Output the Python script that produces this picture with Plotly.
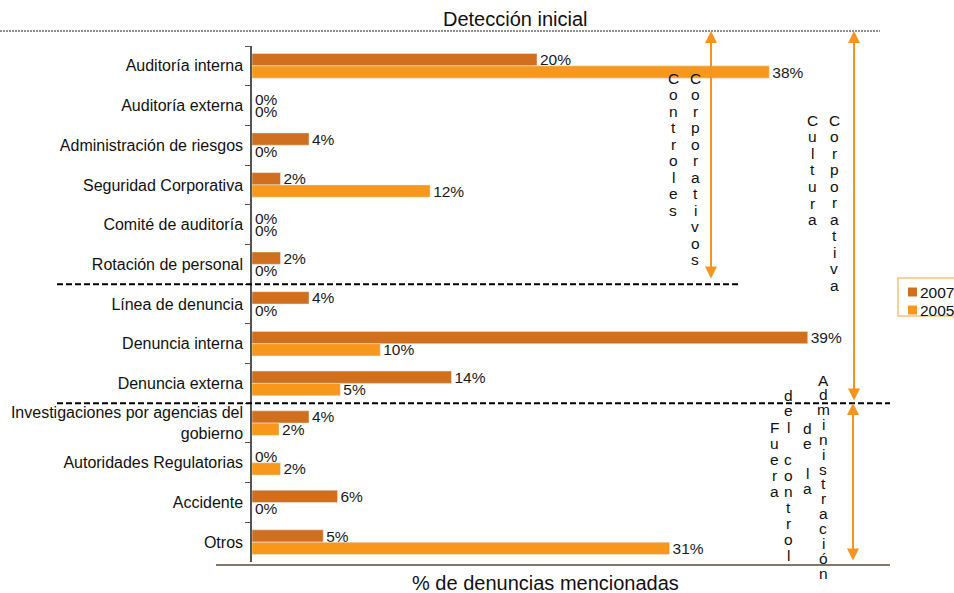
import plotly.graph_objects as go

# categorias (de arriba hacia abajo)
categorias = [
    "Auditoría interna", "Auditoría externa", "Administración de riesgos",
    "Seguridad Corporativa", "Comité de auditoría", "Rotación de personal",
    "Línea de denuncia", "Denuncia interna", "Denuncia externa",
    "Investigaciones por agencias del<br>gobierno", "Autoridades Regulatorias",
    "Accidente", "Otros",
]
v2007 = [20, 0, 4, 2, 0, 2, 4, 39, 14, 4, 0, 6, 5]
# largo de barra 2005 (las etiquetas originales no coinciden exacto)
v2005 = [36.3, 0, 0, 12.5, 0, 0, 0, 9.0, 6.2, 1.9, 2.0, 0, 29.3]
etiq2007 = [20, 0, 4, 2, 0, 2, 4, 39, 14, 4, 0, 6, 5]
etiq2005 = [38, 0, 0, 12, 0, 0, 0, 10, 5, 2, 2, 0, 31]
series = ["2007", "2005"]

C2007 = "#D0701E"
C2005 = "#F7981D"
FONT = "Liberation Sans, Arial, sans-serif"

# area de trazado en pixeles
SW, SH = 954, 593
L, R, T, B = 252, 880, 46, 562


def px_x(x):
    return (x - L) / (R - L)


def px_y(y):
    return (B - y) / (B - T)


fig = go.Figure()
for nombre, vals, etiq, col in [("2007", v2007, etiq2007, C2007),
                                ("2005", v2005, etiq2005, C2005)]:
    fig.add_trace(go.Bar(
        name=nombre, y=categorias, x=vals, orientation="h",
        marker_color=col, text=[f"{v}%" for v in etiq],
        textposition="outside", constraintext="none", cliponaxis=False,
        textfont=dict(size=15.5, color="#1a1a1a"), showlegend=False,
    ))

shapes = [
    # linea punteada superior
    dict(type="line", xref="paper", yref="paper", x0=px_x(0), x1=px_x(880),
         y0=px_y(31), y1=px_y(31), line=dict(color="#222", width=1, dash="2px,1px")),
    # eje inferior
    dict(type="line", xref="paper", yref="paper", x0=px_x(216), x1=px_x(890),
         y0=px_y(565), y1=px_y(565), line=dict(color="#5a4a3a", width=1.5)),
    # separadores de grupo
    dict(type="line", xref="paper", yref="y", x0=px_x(57), x1=px_x(740),
         y0=5.5, y1=5.5, line=dict(color="black", width=2, dash="6px,3px")),
    dict(type="line", xref="paper", yref="y", x0=px_x(57), x1=px_x(890),
         y0=8.5, y1=8.5, line=dict(color="black", width=2, dash="6px,3px")),
    # marco de leyenda
    dict(type="rect", xref="paper", yref="paper", x0=px_x(898), x1=px_x(970),
         y0=px_y(278), y1=px_y(316), line=dict(color="#F7C27F", width=1.5)),
]

annotations = [
    dict(text="Detección inicial", xref="paper", yref="paper", x=px_x(515), y=px_y(19),
         xanchor="center", yanchor="middle", showarrow=False,
         font=dict(size=20, color="#111")),
    dict(text="% de denuncias mencionadas", xref="paper", yref="paper",
         x=px_x(545), y=px_y(583), xanchor="center", yanchor="middle",
         showarrow=False, font=dict(size=20, color="#111")),
]

# leyenda dibujada a mano
for i, (nombre, col) in enumerate(zip(series, [C2007, C2005])):
    yc = 292 + i * 18
    shapes.append(dict(type="rect", xref="paper", yref="paper",
                       x0=px_x(908), x1=px_x(917), y0=px_y(yc - 4.5), y1=px_y(yc + 4.5),
                       fillcolor=col, line=dict(width=0)))
    annotations.append(dict(text=nombre, xref="paper", yref="paper", x=px_x(918),
                            y=px_y(yc), xanchor="left", yanchor="middle",
                            showarrow=False, font=dict(size=15.5, color="#111")))

# flechas de doble punta
for x, y0, y1 in [(711, 31, 280), (854, 31, 402), (853, 403, 562)]:
    annotations.append(dict(
        xref="paper", yref="paper", x=px_x(x), y=px_y(y0), ax=0, ay=y1 - y0,
        text="", showarrow=True, arrowhead=2, arrowside="end+start",
        arrowsize=1.2, arrowwidth=2, arrowcolor="#F7941D", standoff=0, startstandoff=0,
    ))

# textos verticales (letra por letra)
columnas = [
    ("Controles", 673, 78, 16.5),
    ("Corporativos", 695, 78, 16.5),
    ("Cultura", 812, 120, 16.6),
    ("Corporativa", 834, 120, 16.5),
    ("Fuera", 774, 427, 16.2),
    ("del control", 788, 395, 16.0),
    ("de la", 807, 428, 15.0),
    ("Administración", 823, 380, 14.85),
]
for palabra, x, y, paso in columnas:
    for i, ch in enumerate(palabra):
        if ch == " ":
            continue
        annotations.append(dict(
            text=ch, xref="paper", yref="paper", x=px_x(x), y=px_y(y + i * paso),
            showarrow=False, font=dict(size=15.5, color="#111"),
            xanchor="center", yanchor="middle",
        ))

fig.update_layout(
    width=SW, height=SH,
    margin=dict(l=L, r=SW - R, t=T, b=SH - B, autoexpand=False),
    paper_bgcolor="white", plot_bgcolor="white",
    font=dict(family=FONT, size=15.5, color="#111"),
    barmode="group", bargap=0.38, bargroupgap=0,
    showlegend=False,
    shapes=shapes,
    annotations=annotations,
)
fig.update_xaxes(range=[0, (R - L) / 14.25], showgrid=False, zeroline=False,
                 showticklabels=False, showline=False, ticks="")
fig.update_yaxes(autorange="reversed", showgrid=False, showline=True,
                 linecolor="#555", linewidth=1.5, ticks="outside", ticklen=5,
                 tickcolor="#555", tickson="boundaries", ticklabelstandoff=4,
                 tickfont=dict(size=16, color="#111"))

# quitar el margen por defecto del body para que la figura llene la ventana
fig.write_html("out.html", config={"displayModeBar": False},
               post_script="document.body.style.margin='0';")
